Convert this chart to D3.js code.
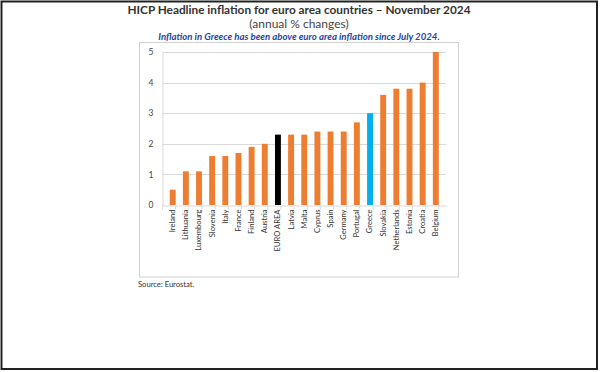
<!DOCTYPE html>
<html><head><meta charset="utf-8">
<script src="https://cdn.jsdelivr.net/npm/d3@7"></script>
<style>body{margin:0;background:#fff}svg{display:block}</style>
</head><body>
<svg id="c" width="600" height="372"></svg>
<script>
const categories = ["Ireland","Lithuania","Luxembourg","Slovenia","Italy","France","Finland","Austria","EURO AREA","Latvia","Malta","Cyprus","Spain","Germany","Portugal","Greece","Slovakia","Netherlands","Estonia","Croatia","Belgium"];
const values = [0.5,1.1,1.1,1.6,1.6,1.7,1.9,2.0,2.3,2.3,2.3,2.4,2.4,2.4,2.7,3.0,3.6,3.8,3.8,4.0,5.0];
const yTicks = [0,1,2,3,4,5];
const highlight = {"EURO AREA":"#000000","Greece":"#00B0F0"};

const svg = d3.select("#c");
const font = "Lato, 'Open Sans', sans-serif";

// outer frame
svg.append("rect").attr("x",1.5).attr("y",1.5).attr("width",595.5).attr("height",367.5)
  .attr("fill","none").attr("stroke","#222").attr("stroke-width",2);
// chart box
svg.append("rect").attr("x",139.5).attr("y",42.5).attr("width",319).attr("height",234.5)
  .attr("fill","none").attr("stroke","#d0d0d0").attr("stroke-width",1);

svg.append("text").attr("x",299).attr("y",14).attr("text-anchor","middle")
  .attr("font-family",font).attr("font-weight","bold").attr("font-size",11.8).attr("fill","#333")
  .text("HICP Headline inflation for euro area countries \u2013 November 2024");
svg.append("text").attr("x",299).attr("y",28).attr("text-anchor","middle")
  .attr("font-family",font).attr("font-size",12).attr("fill","#444")
  .text("(annual % changes)");
svg.append("text").attr("x",299).attr("y",39.5).attr("text-anchor","middle")
  .attr("font-family",font).attr("font-weight","bold").attr("font-style","italic").attr("font-size",9.6).attr("fill","#1F46A0")
  .text("Inflation in Greece has been above euro area inflation since July 2024.");

const x = d3.scaleBand().domain(categories).range([162.5,446]).padding(0.55);
const y = d3.scaleLinear().domain([0,5]).range([205,52]);

// gridlines
svg.append("g").selectAll("line").data(yTicks.filter(d=>d>0)).join("line")
  .attr("x1",162.5).attr("x2",446).attr("y1",d=>Math.round(y(d))+0.5).attr("y2",d=>Math.round(y(d))+0.5)
  .attr("stroke","#d9d9d9").attr("stroke-width",1);

// y axis
const ya = svg.append("g").attr("transform","translate(162.5,0)")
  .call(d3.axisLeft(y).tickValues(yTicks).tickSize(0).tickPadding(9).tickFormat(d3.format("d")));
ya.select(".domain").attr("stroke","#d9d9d9");
ya.selectAll("text").attr("font-family",font).attr("font-size",8.5).attr("fill","#444");

// bars
svg.append("g").selectAll("rect").data(categories).join("rect")
  .attr("x",d=>x(d)).attr("width",x.bandwidth())
  .attr("y",(d,i)=>y(values[i])).attr("height",(d,i)=>y(0)-y(values[i]))
  .attr("fill",d=>highlight[d]||"#ED7D31");

// x axis
const xa = svg.append("g").attr("transform","translate(0,205.5)")
  .call(d3.axisBottom(x).tickSize(0).tickPadding(4));
xa.select(".domain").attr("stroke","#d9d9d9");
const step = x.step();
xa.selectAll(".tk").data(d3.range(categories.length+1)).join("line")
  .attr("x1",i=>162.5+i*step).attr("x2",i=>162.5+i*step).attr("y1",0).attr("y2",4)
  .attr("stroke","#d9d9d9");
xa.selectAll(".tick text").attr("font-family",font).attr("font-size",7.6).attr("fill","#333")
  .attr("transform","rotate(-90)").attr("text-anchor","end").attr("dy","0.32em")
  .attr("x",-4).attr("y",0);

svg.append("text").attr("x",138).attr("y",287).attr("font-family",font).attr("font-size",7.6).attr("fill","#333")
  .text("Source: Eurostat.");
</script>
</body></html>
